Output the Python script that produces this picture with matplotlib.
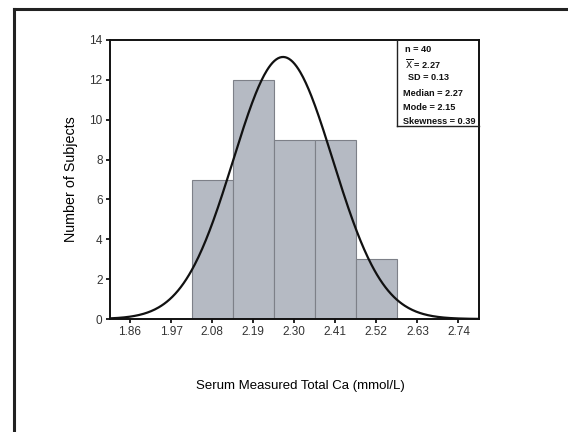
import numpy as np
import matplotlib.pyplot as plt
from matplotlib.lines import Line2D

plt.rcParams['font.family'] = ['Liberation Sans', 'DejaVu Sans']

# Histogram of serum total Ca
bin_centers = [2.08, 2.19, 2.30, 2.41, 2.52]
counts = [7, 12, 9, 9, 3]
bin_width = 0.11
x_ticks = [1.86, 1.97, 2.08, 2.19, 2.30, 2.41, 2.52, 2.63, 2.74]
y_ticks = [0, 2, 4, 6, 8, 10, 12, 14]

# Normal curve parameters (fitted)
n_subjects = 40
mean_ca = 2.27
sd_fit = 0.1335

stats_lines = ["n = 40", r"$\overline{\mathrm{X}}$ = 2.27", "SD = 0.13",
               "Median = 2.27", "Mode = 2.15", "Skewness = 0.39"]


def main():
    fig = plt.figure(figsize=(5.68, 4.32), dpi=100)
    ax = fig.add_axes([109.5 / 568, 1 - 319 / 432, (479 - 109.5) / 568, (319 - 40) / 432])

    # outer frame (left and top only, as in the scan)
    fig.add_artist(Line2D([14 / 568, 14 / 568], [0, 1 - 8.5 / 432], color='#222222', lw=2.2,
                          transform=fig.transFigure))
    fig.add_artist(Line2D([14 / 568, 1], [1 - 8.5 / 432, 1 - 8.5 / 432], color='#222222', lw=2.2,
                          transform=fig.transFigure))

    ax.bar(bin_centers, counts, width=bin_width, color='#b5bac3', edgecolor='#7d8088',
           linewidth=0.8, zorder=2)

    xmin, xmax = x_ticks[0] - bin_width / 2, x_ticks[-1] + bin_width / 2
    xs = np.linspace(xmin, xmax, 400)
    ys = n_subjects * bin_width / (sd_fit * np.sqrt(2 * np.pi)) * np.exp(-0.5 * ((xs - mean_ca) / sd_fit) ** 2)
    ax.plot(xs, ys, color='#111111', lw=1.6, zorder=3)

    ax.set_xlim(xmin, xmax)
    ax.set_ylim(0, 14)
    ax.set_xticks(x_ticks)
    ax.set_xticklabels([f"{t:.2f}" for t in x_ticks])
    ax.set_yticks(y_ticks)
    ax.tick_params(axis='both', direction='out', length=3, width=1.2, labelsize=8.5,
                   labelcolor='#333333', pad=2)
    for s in ax.spines.values():
        s.set_linewidth(1.4)
        s.set_color('#111111')

    ax.set_ylabel("Number of Subjects", fontsize=10.3, labelpad=8)
    fig.text(300 / 568, 1 - 386 / 432, "Serum Measured Total Ca (mmol/L)", fontsize=9.5,
             ha='center', va='center')

    # statistics box in the top-right corner
    bx0, by1 = 397, 126
    fig.add_artist(Line2D([bx0 / 568, bx0 / 568], [1 - 40 / 432, 1 - by1 / 432], color='#222222',
                          lw=1.0, transform=fig.transFigure))
    fig.add_artist(Line2D([bx0 / 568, 479 / 568], [1 - by1 / 432, 1 - by1 / 432], color='#222222',
                          lw=1.0, transform=fig.transFigure))
    y_pos = [50, 64, 78, 93, 108, 122]
    x_pos = [405, 405, 408, 403, 403, 403]
    for txt, xp, yp in zip(stats_lines, x_pos, y_pos):
        fig.text(xp / 568, 1 - yp / 432, txt, fontsize=6.6, fontweight='bold',
                 ha='left', va='center', color='#111111')

    fig.savefig("out.png", dpi=100)


if __name__ == "__main__":
    main()
